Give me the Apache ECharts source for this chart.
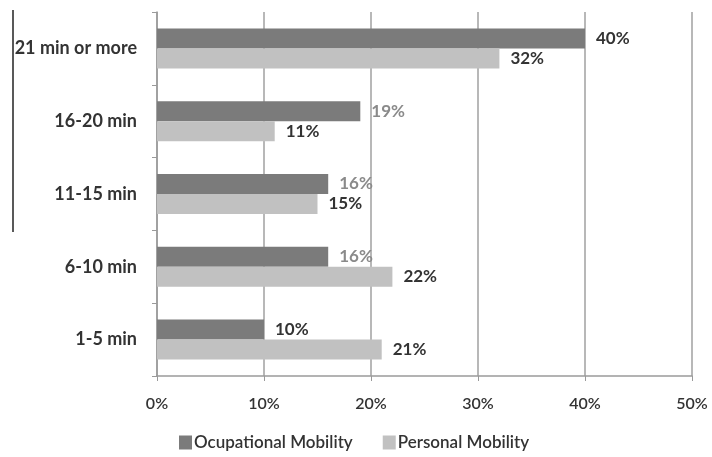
<!DOCTYPE html>
<html>
<head>
<meta charset="utf-8">
<script src="https://cdn.jsdelivr.net/npm/echarts@6/dist/echarts.min.js"></script>
<style>
html,body{margin:0;padding:0;background:#fff;}
#chart{width:712px;height:457px;}
</style>
</head>
<body>
<div id="chart"></div>
<script>
// Commute time bands (top to bottom)
var categories = ['21 min or more', '16-20 min', '11-15 min', '6-10 min', '1-5 min'];
// Share of respondents, percent
var occupational = [40, 19, 16, 16, 10];
var personal = [32, 11, 15, 22, 21];
// Value axis ticks
var tickValues = [0, 10, 20, 30, 40, 50];

var FONT = 'Lato, "Open Sans", sans-serif';
var darkLabel = '#333333';
var softLabel = '#8a8a8a';
// label colours for the occupational series: lighter for the mid bands
var occLabelColors = [darkLabel, softLabel, softLabel, softLabel, darkLabel];

var chart = echarts.init(document.getElementById('chart'), null, {renderer: 'canvas'});
chart.setOption({
  backgroundColor: '#ffffff',
  animation: false,
  grid: {left: 157, right: 20, top: 12, bottom: 81, containLabel: false},
  legend: {
    top: 429,
    left: 174,
    itemWidth: 13,
    itemHeight: 14,
    itemGap: 30,
    icon: 'rect',
    textStyle: {fontFamily: FONT, fontSize: 17, fontWeight: 600, color: '#333', padding: [0, 0, 0, -3]},
    data: ['Ocupational Mobility', 'Personal Mobility']
  },
  xAxis: {
    type: 'value',
    min: tickValues[0],
    max: tickValues[tickValues.length - 1],
    interval: 10,
    axisLine: {show: true, lineStyle: {color: '#9a9a9a', width: 1.5}},
    axisTick: {show: true, length: 5, lineStyle: {color: '#9a9a9a'}},
    splitLine: {show: true, lineStyle: {color: '#a0a0a0', width: 1.5}},
    axisLabel: {
      margin: 20,
      fontFamily: FONT, fontSize: 16, fontWeight: 600, color: '#333',
      formatter: function (v) { return v + '%'; }
    }
  },
  yAxis: {
    type: 'category',
    inverse: true,
    data: categories,
    axisLine: {show: true, lineStyle: {color: '#9a9a9a', width: 1.5}},
    axisTick: {show: true, length: 5, lineStyle: {color: '#9a9a9a'}},
    axisLabel: {margin: 20, fontFamily: FONT, fontSize: 18, fontWeight: 'bold', color: '#333'}
  },
  series: [
    {
      name: 'Ocupational Mobility',
      type: 'bar',
      data: occupational.map(function (v, i) {
        return {value: v, label: {color: occLabelColors[i]}};
      }),
      barGap: '0%',
      barCategoryGap: '45%',
      itemStyle: {color: '#7b7b7b'},
      label: {
        show: true, position: 'right', distance: 11,
        fontFamily: FONT, fontSize: 17, fontWeight: 'bold',
        formatter: '{c}%'
      }
    },
    {
      name: 'Personal Mobility',
      type: 'bar',
      data: personal,
      barGap: '0%',
      barCategoryGap: '45%',
      itemStyle: {color: '#c1c1c1'},
      label: {
        show: true, position: 'right', distance: 11,
        fontFamily: FONT, fontSize: 17, fontWeight: 'bold', color: darkLabel,
        formatter: '{c}%'
      }
    }
  ],
  graphic: [
    {
      type: 'line',
      shape: {x1: 13, y1: 10, x2: 13, y2: 232},
      style: {stroke: '#222', lineWidth: 1.5},
      silent: true
    }
  ]
});
</script>
</body>
</html>
